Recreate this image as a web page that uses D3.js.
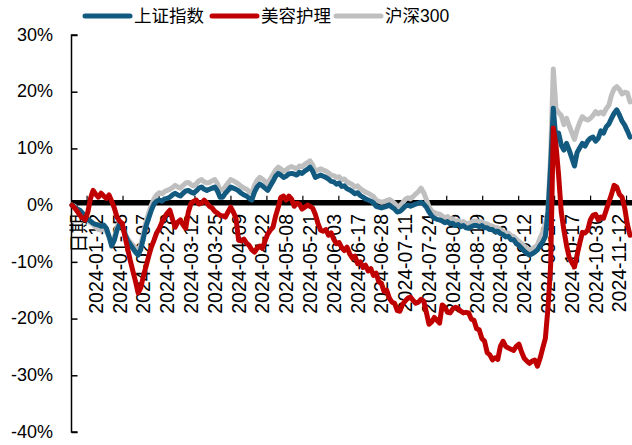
<!DOCTYPE html>
<html><head><meta charset="utf-8">
<script src="https://cdn.jsdelivr.net/npm/d3@7"></script>
<style>
html,body{margin:0;padding:0;background:#fff;}
svg{display:block;font-family:'Liberation Sans','Noto Sans CJK SC',Arial,sans-serif;}
</style></head>
<body>
<svg id="chart" width="632" height="445"></svg>
<script>
const seriesNames = ["上证指数", "美容护理", "沪深300"];
const seriesColors = ["#125a80", "#c00000", "#bfbfbf"];

const tickLabels = ["日期","2024-01-12","2024-01-25","2024-02-07","2024-02-28","2024-03-12","2024-03-25",
  "2024-04-09","2024-04-22","2024-05-08","2024-05-21","2024-06-03","2024-06-17","2024-06-28",
  "2024-07-11","2024-07-24","2024-08-06","2024-08-19","2024-08-30","2024-09-12","2024-09-27",
  "2024-10-17","2024-10-30","2024-11-12"];
const labelEvery = 9;

const yTicks = [30, 20, 10, 0, -10, -20, -30, -40];

const shIndex = [0,-0.35,-0.7,-0.9,-1.4,-2.1,-2.5,-2.8,-3.2,-3.4,
 -3.5,-3.7,-3.5,-4.1,-5.5,-7.2,-6.2,-4.4,-3.4,-3.5,
 -5.1,-6.2,-6.9,-7.6,-8.3,-8.8,-7.8,-5.8,-3.7,-2.3,
 -0.9,0.2,0.7,0.9,0.7,1.1,1.2,1.4,1.8,2.1,
 1.8,1.6,2.1,2.5,2.6,2.3,2.1,2.5,3.0,3.2,
 2.8,2.6,2.8,3.0,3.2,2.5,1.4,1.4,2.1,2.6,
 3.2,3.0,2.8,2.5,2.1,1.8,1.6,1.2,0.9,2.3,
 3.2,3.7,3.4,3.0,2.6,3.4,4.2,5.1,5.6,5.3,
 4.9,5.1,5.5,5.6,5.5,5.3,5.8,5.6,6.0,6.3,
 6.7,6.0,4.9,5.1,5.3,5.1,4.9,4.6,4.2,4.1,
 3.7,3.9,3.3,3.4,2.9,2.7,2.4,2.0,2.2,1.7,
 1.4,1.1,0.9,0.7,0.4,-0.2,-0.35,-0.5,-0.35,-0.2,
 0,-0.35,-0.7,-1.2,-1.1,-0.7,-0.2,0,-0.2,0,
 0.2,0.35,0.5,0.2,-0.35,-1.2,-1.9,-2.3,-2.5,-2.6,
 -2.8,-3.1,-2.9,-3.3,-3.2,-3.6,-3.4,-3.8,-3.6,-4.0,
 -4.1,-3.8,-3.6,-3.6,-3.8,-3.6,-4.0,-4.0,-4.3,-4.3,
 -4.7,-4.6,-5.0,-5.2,-5.6,-5.5,-6.1,-6.1,-6.8,-7.1,
 -7.6,-8.1,-8.5,-8.8,-8.6,-8.3,-7.9,-7.1,-6.5,-5.5,
 -1.2,7.0,17.1,11.5,12.7,10.6,9.7,10.9,9.7,8.3,
 6.9,9.3,10.1,10.9,10.4,11.3,11.8,12.0,11.3,11.8,
 13.1,12.7,13.8,14.3,15.3,16.2,16.8,15.9,14.8,14.1,
 13.1,12.0];

const beauty = [0,-0.5,-1.1,-1.8,-2.3,-2.6,-1.2,1.2,2.6,1.9,
 1.4,2.1,1.6,1.2,1.8,0.7,-0.5,-2.1,-2.8,-3.2,
 -5.5,-7.6,-9.7,-11.6,-13.4,-15.5,-14.6,-12.5,-10.8,-9.0,
 -7.4,-6.2,-4.9,-4.1,-3.0,-2.1,-1.4,-0.9,-2.5,-3.9,
 -3.0,-2.6,-3.5,-4.1,-1.2,0.35,0.7,0.9,0.2,0.35,
 0.9,0.35,-0.2,-0.5,-1.1,-1.4,-1.8,-1.9,-2.1,-1.2,
 -0.35,-1.2,-2.3,-6.2,-6.3,-6.0,-6.7,-7.1,-7.9,-8.3,
 -7.6,-7.2,-7.6,-6.3,-5.1,-4.4,-3.9,-1.9,-0.35,1.4,
 1.6,0.9,1.6,1.1,-0.2,0.35,0.2,-0.7,-0.35,0,
 -0.2,-0.5,-1.6,-3.2,-4.4,-4.6,-4.3,-5.3,-4.9,-6.0,
 -6.8,-6.6,-7.5,-8.0,-7.4,-8.6,-9.3,-9.0,-10.3,-10.0,
 -11.0,-10.6,-11.6,-11.2,-12.4,-12.0,-13.5,-13.8,-15.2,-15.0,
 -16.4,-17.1,-17.3,-18.6,-18.7,-17.5,-16.9,-16.4,-16.2,-16.8,
 -17.3,-17.1,-16.6,-16.9,-18.9,-21.0,-20.6,-19.8,-20.3,-20.8,
 -17.6,-18.0,-18.9,-19.0,-18.3,-18.0,-18.2,-18.7,-19.0,-18.9,
 -19.0,-20.1,-20.3,-21.8,-22.0,-23.5,-24.0,-26.0,-26.4,-27.3,
 -26.9,-27.2,-24.9,-24.0,-24.9,-25.2,-25.4,-25.6,-24.9,-24.5,
 -25.9,-27.0,-27.5,-27.9,-27.5,-27.3,-28.4,-27.0,-25.2,-23.5,
 -18.0,-10.6,13.6,10.6,5.3,-1.2,-4.4,-7.1,-9.2,-10.1,
 -10.9,-8.8,-6.7,-4.8,-4.9,-4.4,-2.6,-1.8,-1.6,-2.6,
 -2.1,-2.3,-0.9,0.5,1.9,3.5,3.2,1.9,1.4,-0.5,
 -3.4,-5.3];

const csi300 = [0,-0.2,-0.8,-1.2,-1.5,-2.0,-2.6,-3.1,-3.4,-3.9,
 -4.3,-4.4,-4.0,-4.6,-5.6,-6.6,-5.7,-3.9,-3.0,-3.4,
 -5.0,-5.9,-6.5,-7.0,-7.6,-7.9,-7.0,-5.0,-2.9,-1.4,
 0.0,1.1,1.8,2.2,2.0,2.4,2.6,2.8,3.1,3.5,
 3.2,3.0,3.5,3.9,4.0,3.6,3.4,3.8,4.3,4.5,
 4.1,3.9,4.0,4.3,4.5,3.8,2.6,2.7,3.3,3.9,
 4.5,4.3,4.0,3.7,3.3,3.0,2.8,2.4,2.1,3.5,
 4.4,4.9,4.6,4.2,3.8,4.6,5.4,6.2,6.7,6.4,
 6.0,6.2,6.6,6.8,6.6,6.4,6.9,6.8,7.2,7.5,
 7.8,7.1,6.0,6.2,6.4,6.2,6.0,5.7,5.3,5.2,
 4.9,5.0,4.5,4.6,4.1,3.9,3.6,3.2,3.4,2.9,
 2.6,2.3,2.1,1.8,1.5,0.9,0.7,0.5,0.6,0.8,
 1.0,0.7,0.3,-0.2,-0.1,0.4,1.0,1.3,1.1,1.5,
 2.0,2.4,3.0,2.2,1.0,-0.3,-1.0,-1.3,-1.5,-1.6,
 -1.9,-2.3,-2.0,-2.5,-2.4,-2.9,-2.7,-3.1,-2.9,-3.2,
 -3.3,-3.0,-2.8,-2.8,-3.0,-2.9,-3.3,-3.3,-3.6,-3.7,
 -4.0,-4.0,-4.3,-4.6,-4.9,-4.9,-5.4,-5.5,-6.0,-6.4,
 -6.8,-7.2,-7.6,-7.9,-7.7,-7.4,-7.0,-5.8,-4.8,-3.3,
 -1.0,9.0,24.0,17.0,16.3,15.8,14.2,15.3,14.0,12.8,
 11.6,13.3,14.6,15.6,15.2,15.0,15.3,15.8,16.5,16.1,
 16.4,16.1,17.0,17.6,19.4,20.5,20.9,20.4,19.6,19.9,
 19.8,18.2];

const svg = d3.select("#chart");
const n = shIndex.length;
const x = d3.scaleLinear().domain([0, n - 1]).range([72, 630]);
const y = d3.scaleLinear().domain([-40, 30]).range([432, 35]);

// Y axis
const yAxis = svg.append("g").attr("transform", "translate(71.5,0)")
  .call(d3.axisRight(y).tickValues(yTicks).tickSize(6).tickFormat(""));
yAxis.select(".domain").attr("stroke", "#000").attr("stroke-width", 1.5).attr("d", `M6,${y(30)}H0V${y(-40)}H6`);
yAxis.selectAll(".tick line").attr("stroke", "#000").attr("stroke-width", 1.5);

svg.append("g").selectAll("text").data(yTicks).join("text")
  .attr("x", 53).attr("y", d => y(d) + 1)
  .attr("text-anchor", "end").attr("dominant-baseline", "middle")
  .attr("font-size", 18).attr("fill", "#000")
  .text(d => d + "%");

// zero axis bar
const y0 = y(0);
svg.append("line").attr("x1", 71.5).attr("x2", 632).attr("y1", y0 - 2.5).attr("y2", y0 - 2.5)
  .attr("stroke", "#000").attr("stroke-width", 5.5);
const minorTicks = d3.range(5.7, n, 13.6);
svg.append("g").selectAll("line").data(minorTicks).join("line")
  .attr("x1", d => x(d)).attr("x2", d => x(d))
  .attr("y1", y0 - 5).attr("y2", y0 - 9.5)
  .attr("stroke", "#000").attr("stroke-width", 1.2);

// x labels
svg.append("g").selectAll("text").data(tickLabels).join("text")
  .attr("transform", (d, i) => `translate(${x(i * labelEvery) + (i === 0 ? 7 : 0)},214) rotate(-90)`)
  .attr("text-anchor", "end").attr("dominant-baseline", "central")
  .attr("font-size", 19.5).attr("fill", "#000")
  .text(d => d);

// lines
const line = d3.line().x((d, i) => x(i)).y(d => y(d)).curve(d3.curveLinear);
const drawOrder = [[csi300, 2], [shIndex, 0], [beauty, 1]];
svg.append("g").selectAll("path").data(drawOrder).join("path")
  .attr("d", d => line(d[0]))
  .attr("fill", "none")
  .attr("stroke", d => seriesColors[d[1]])
  .attr("stroke-width", 5)
  .attr("stroke-linejoin", "round").attr("stroke-linecap", "round");

// legend
const legendX = [85, 212, 336];
const lg = svg.append("g").selectAll("g").data(seriesNames).join("g")
  .attr("transform", (d, i) => `translate(${legendX[i]},16)`);
lg.append("line").attr("x1", 0).attr("x2", 45).attr("y1", 0).attr("y2", 0)
  .attr("stroke", (d, i) => seriesColors[i]).attr("stroke-width", 5).attr("stroke-linecap", "round");
lg.append("text").attr("x", 49).attr("y", 1).attr("dominant-baseline", "middle")
  .attr("font-size", 17.5).attr("fill", "#000").text(d => d);
</script>
</body></html>
